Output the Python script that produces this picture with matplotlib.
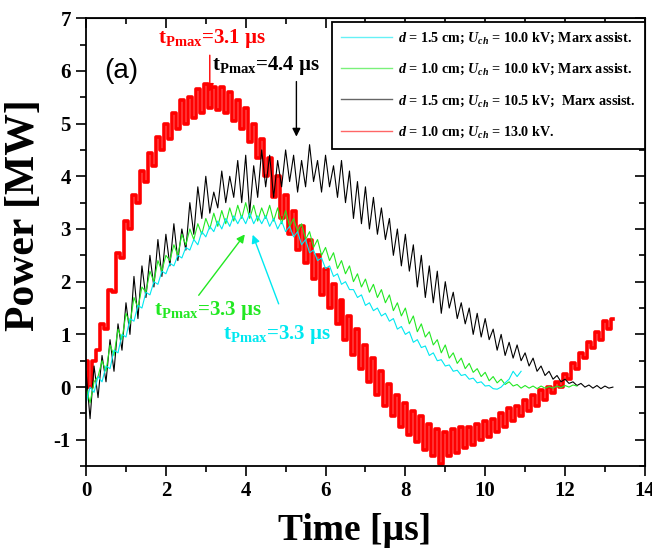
import matplotlib
matplotlib.use('Agg')
import matplotlib.pyplot as plt
from matplotlib.lines import Line2D
from matplotlib.ticker import MultipleLocator
import numpy as np

plt.rcParams['font.family'] = ['Liberation Serif', 'DejaVu Serif']
plt.rcParams['font.weight'] = 'bold'
plt.rcParams['axes.unicode_minus'] = False
plt.rcParams['mathtext.fontset'] = 'custom'
plt.rcParams['mathtext.rm'] = 'Liberation Serif:bold'
plt.rcParams['mathtext.it'] = 'Liberation Serif:italic:bold'
plt.rcParams['mathtext.bf'] = 'Liberation Serif:bold'

dt = 0.1

# d = 1.0 cm; Uch = 13.0 kV
p_red = [0.5, 0.0, 0.5, 0.7, 1.2, 1.1, 1.85, 1.8, 2.55, 2.45,
         3.15, 3.0, 3.65, 3.5, 4.1, 3.9, 4.45, 4.2, 4.75, 4.5,
         5.0, 4.7, 5.2, 4.9, 5.45, 5.0, 5.5, 5.1, 5.65, 5.2,
         5.75, 5.3, 5.7, 5.25, 5.7, 5.2, 5.6, 5.05, 5.45, 4.9,
         5.3, 4.65, 5.0, 4.35, 4.7, 4.0, 4.35, 3.6, 4.0, 3.2,
         3.65, 2.9, 3.35, 2.6, 3.05, 2.35, 2.8, 2.05, 2.5, 1.75,
         2.25, 1.5, 1.95, 1.2, 1.65, 0.9, 1.35, 0.6, 1.1, 0.35,
         0.8, 0.1, 0.55, -0.15, 0.3, -0.35, 0.05, -0.55, -0.15, -0.75,
         -0.3, -0.9, -0.45, -1.05, -0.55, -1.2, -0.7, -1.3, -0.8, -1.45,
         -0.85, -1.3, -0.8, -1.25, -0.75, -1.15, -0.75, -1.1, -0.7, -1.0,
         -0.65, -0.95, -0.6, -0.85, -0.5, -0.75, -0.4, -0.65, -0.35, -0.55,
         -0.25, -0.45, -0.15, -0.35, -0.05, -0.25, 0.0, -0.12, 0.1, 0.0,
         0.25, 0.15, 0.45, 0.35, 0.65, 0.55, 0.85, 0.75, 1.05, 0.9,
         1.25, 1.1, 1.3]

# d = 1.5 cm; Uch = 10.5 kV; Marx assist.
p_black = [0.3, -0.6, 0.4, -0.2, 0.6, 0.1, 0.9, 0.3, 1.2, 0.7,
           1.6, 1.0, 2.1, 1.3, 2.3, 1.7, 2.5, 1.9, 2.8, 2.1,
           2.9, 2.3, 3.1, 2.4, 3.0, 2.6, 3.5, 2.9, 3.8, 3.2,
           4.0, 3.3, 3.7, 3.4, 4.1, 3.5, 4.0, 3.6, 4.3, 3.5,
           4.4, 3.3, 4.2, 3.6, 4.5, 3.8, 4.4, 3.6, 4.3, 3.8,
           4.5, 3.9, 4.4, 3.7, 4.3, 3.8, 4.6, 3.9, 4.3, 3.7,
           4.4, 3.8, 4.2, 3.6, 4.3, 3.5, 4.1, 3.2, 3.9, 3.1,
           3.8, 3.0, 3.6, 2.9, 3.4, 2.8, 3.2, 2.5, 3.0, 2.3,
           2.9, 2.2, 2.7, 1.9, 2.5, 1.7, 2.3, 1.6, 2.2, 1.4,
           2.0, 1.5, 1.8, 1.3, 1.6, 1.2, 1.5, 1.0, 1.4, 0.95,
           1.3, 0.9, 1.1, 0.7, 1.0, 0.6, 0.85, 0.55, 0.8, 0.5,
           0.65, 0.4, 0.55, 0.3, 0.4, 0.22, 0.3, 0.15, 0.22, 0.1,
           0.15, 0.07, 0.1, 0.03, 0.07, 0.0, 0.04, -0.02, 0.03, -0.03,
           0.02, -0.02, 0.0]

# d = 1.0 cm; Uch = 10.0 kV; Marx assist.
p_green = [0.0, -0.3, 0.1, 0.2, 0.5, 0.3, 0.8, 0.6, 1.1, 0.9,
           1.4, 1.2, 1.7, 1.5, 1.9, 1.8, 2.2, 2.0, 2.4, 2.2,
           2.5, 2.4, 2.7, 2.5, 2.9, 2.7, 3.0, 2.8, 3.1, 2.9,
           3.2, 3.0, 3.3, 3.05, 3.35, 3.1, 3.4, 3.15, 3.45, 3.2,
           3.5, 3.2, 3.45, 3.15, 3.4, 3.2, 3.45, 3.15, 3.4, 3.1,
           3.35, 3.05, 3.2, 2.95, 3.1, 2.8, 2.95, 2.65, 2.8, 2.5,
           2.65, 2.4, 2.55, 2.25, 2.4, 2.15, 2.3, 2.0, 2.15, 1.9,
           2.05, 1.8, 1.95, 1.7, 1.85, 1.6, 1.75, 1.45, 1.6, 1.35,
           1.5, 1.2, 1.35, 1.05, 1.2, 0.95, 1.05, 0.8, 0.9, 0.65,
           0.8, 0.55, 0.65, 0.45, 0.55, 0.35, 0.45, 0.28, 0.35, 0.2,
           0.28, 0.12, 0.2, 0.08, 0.15, 0.05, 0.1, 0.02, 0.05, -0.02,
           0.03, -0.02, 0.02, -0.03, 0.02, -0.02, 0.01, -0.02, 0.02, -0.01,
           0.03, 0.0, 0.04, 0.02]

# d = 1.5 cm; Uch = 10.0 kV; Marx assist.
p_cyan = [-0.3, 0.0, -0.1, 0.2, 0.1, 0.4, 0.35, 0.7, 0.65, 1.0,
          0.95, 1.3, 1.25, 1.55, 1.5, 1.8, 1.75, 2.0, 1.95, 2.2,
          2.15, 2.35, 2.3, 2.5, 2.45, 2.65, 2.6, 2.8, 2.7, 2.95,
          2.85, 3.05, 2.95, 3.15, 3.0, 3.2, 3.05, 3.25, 3.1, 3.25,
          3.1, 3.3, 3.1, 3.25, 3.1, 3.25, 3.05, 3.2, 3.0, 3.15,
          2.95, 3.05, 2.85, 2.95, 2.7, 2.8, 2.55, 2.6, 2.4, 2.45,
          2.25, 2.3, 2.1, 2.15, 1.95, 2.0, 1.85, 1.85, 1.7, 1.75,
          1.55, 1.6, 1.45, 1.5, 1.35, 1.4, 1.25, 1.3, 1.1, 1.15,
          1.0, 1.05, 0.85, 0.9, 0.75, 0.78, 0.6, 0.65, 0.5, 0.52,
          0.4, 0.42, 0.3, 0.32, 0.22, 0.24, 0.15, 0.17, 0.08, 0.1,
          0.02, 0.03, -0.03, -0.04, 0.0, 0.08, 0.15, 0.3, 0.2, 0.3]

labels = [r'$d$ = 1.5 cm; $U_{ch}$ = 10.0 kV; Marx assist.',
          r'$d$ = 1.0 cm; $U_{ch}$ = 10.0 kV; Marx assist.',
          r'$d$ = 1.5 cm; $U_{ch}$ = 10.5 kV;  Marx assist.',
          r'$d$ = 1.0 cm; $U_{ch}$ = 13.0 kV.']
colors = ['#00e8f0', '#22e822', '#000000', '#ff0000']


def tgrid(p):
    return np.arange(len(p)) * dt


fig = plt.figure(figsize=(6.52, 5.51), dpi=100)
ax = fig.add_axes([0.132, 0.154, 0.857, 0.813])

ax.plot(tgrid(p_red), p_red, color=colors[3], lw=2.6, drawstyle='steps-mid')
ax.plot(tgrid(p_black), p_black, color=colors[2], lw=0.8)
ax.plot(tgrid(p_green), p_green, color=colors[1], lw=0.8)
ax.plot(tgrid(p_cyan), p_cyan, color=colors[0], lw=0.8)

ax.set_xlim(0, 14)
ax.set_ylim(-1.5, 7)
ax.xaxis.set_major_locator(MultipleLocator(2))
ax.xaxis.set_minor_locator(MultipleLocator(1))
ax.yaxis.set_major_locator(MultipleLocator(1))
ax.yaxis.set_minor_locator(MultipleLocator(0.5))
ax.tick_params(which='both', direction='out', width=1.2, labelsize=15, pad=4)
ax.tick_params(which='major', length=7)
ax.tick_params(which='minor', length=4)
for s in ax.spines.values():
    s.set_linewidth(1.3)

# mirrored axes with inward ticks
top = ax.secondary_xaxis('top')
top.xaxis.set_major_locator(MultipleLocator(2))
top.xaxis.set_minor_locator(MultipleLocator(1))
top.tick_params(which='both', direction='in', width=1.2, labeltop=False)
top.tick_params(which='major', length=7)
top.tick_params(which='minor', length=4)
right = ax.secondary_yaxis('right')
right.yaxis.set_major_locator(MultipleLocator(1))
right.yaxis.set_minor_locator(MultipleLocator(0.5))
right.tick_params(which='both', direction='in', width=1.2, labelright=False)
right.tick_params(which='major', length=7)
right.tick_params(which='minor', length=4)

ax.set_xlabel('Time [µs]', fontsize=27, fontweight='bold')
ax.set_ylabel('Power [MW]', fontsize=30, fontweight='bold')
ax.xaxis.set_label_coords(0.481, -0.105)
ax.yaxis.set_label_coords(-0.077, 0.56)

ax.text(0.45, 6.0, '(a)', fontsize=20, family='Liberation Sans', fontweight='normal', va='center')

# peak annotations
ax.annotate('', xy=(3.1, 5.55), xytext=(3.1, 6.35),
            arrowprops=dict(arrowstyle='-|>', color='red', lw=1.0, mutation_scale=12))
ax.text(3.15, 6.62, r'$\mathrm{t_{Pmax}}$=3.1 µs', color='red', fontsize=15, ha='center', va='center')
ax.annotate('', xy=(5.27, 4.7), xytext=(5.27, 5.85),
            arrowprops=dict(arrowstyle='-|>', color='black', lw=1.0, mutation_scale=12))
ax.text(4.5, 6.1, r'$\mathrm{t_{Pmax}}$=4.4 µs', color='black', fontsize=15, ha='center', va='center')
ax.annotate('', xy=(4.02, 2.94), xytext=(2.78, 1.7),
            arrowprops=dict(arrowstyle='-|>', color='#22e822', lw=1.0, mutation_scale=12))
ax.text(3.07, 1.45, r'$\mathrm{t_{Pmax}}$=3.3 µs', color='#22e822', fontsize=15, ha='center', va='center')
ax.annotate('', xy=(4.15, 2.94), xytext=(4.85, 1.53),
            arrowprops=dict(arrowstyle='-|>', color='#00e8f0', lw=1.0, mutation_scale=12))
ax.text(4.78, 1.0, r'$\mathrm{t_{Pmax}}$=3.3 µs', color='#00e8f0', fontsize=15, ha='center', va='center')

handles = [Line2D([], [], color=c, lw=1.0, alpha=0.6) for c in colors]
leg = ax.legend(handles, labels, loc='upper right', bbox_to_anchor=(1.0, 0.992),
                borderaxespad=0, fancybox=False, framealpha=1, edgecolor='black',
                prop={'family': 'Liberation Serif', 'weight': 'bold', 'size': 10.2},
                handlelength=3.6, handletextpad=0.4, labelspacing=1.12, borderpad=0.65)
leg.get_frame().set_linewidth(1.3)

plt.savefig('out.png', dpi=100)
